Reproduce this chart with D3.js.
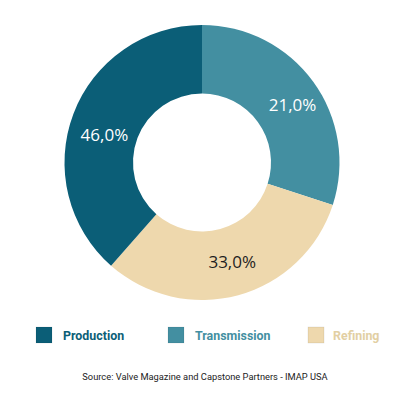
<!DOCTYPE html>
<meta charset="utf-8">
<style>
  body { margin: 0; background: #fff; }
  svg { display: block; }
</style>
<div id="chart"></div>
<script src="https://cdn.jsdelivr.net/npm/d3@7/dist/d3.min.js"></script>
<script>
  // slice names, printed labels and the arc shares as drawn in the picture
  var segments = ["Transmission", "Refining", "Production"];
  var arcShares = [30.0, 31.5, 38.5];
  var valueLabels = ["21,0%", "33,0%", "46,0%"];
  var labelColors = ["#ffffff", "#1e1e1e", "#ffffff"];
  var legendOrder = ["Production", "Transmission", "Refining"];
  var sourceText = "Source: Valve Magazine and Capstone Partners - IMAP USA";

  var W = 400, H = 400;
  var cx = 202, cy = 162.5, outerR = 137.5, innerR = 69;
  // small nudges of the value labels off the arc centroid
  var labelNudge = [[7, 3], [3, 0], [-1, 9]];
  var legendPos = d3.scaleOrdinal().domain(legendOrder).range([36, 168, 308]);

  var color = d3.scaleOrdinal()
    .domain(segments)
    .range(["#438fa1", "#eed8ad", "#0b5e77"]);

  var svg = d3.select("#chart").append("svg")
    .attr("width", W)
    .attr("height", H);

  // donut
  var pie = d3.pie().sort(null).value(function(d) { return d.v; });
  var arc = d3.arc().innerRadius(innerR).outerRadius(outerR);

  var data = segments.map(function(s, i) {
    return { name: s, v: arcShares[i], label: valueLabels[i], tc: labelColors[i], nudge: labelNudge[i] };
  });

  var g = svg.append("g").attr("transform", "translate(" + cx + "," + cy + ")");

  g.selectAll("path")
    .data(pie(data))
    .enter().append("path")
      .attr("d", arc)
      .attr("fill", function(d) { return color(d.data.name); });

  g.selectAll("text")
    .data(pie(data))
    .enter().append("text")
      .attr("transform", function(d) {
        var c = arc.centroid(d);
        return "translate(" + (c[0] + d.data.nudge[0]) + "," + (c[1] + d.data.nudge[1]) + ")";
      })
      .attr("text-anchor", "middle")
      .attr("dy", "0.36em")
      .attr("font-family", "'Open Sans', sans-serif")
      .attr("font-size", 17)
      .attr("fill", function(d) { return d.data.tc; })
      .text(function(d) { return d.data.label; });

  // legend
  var legend = svg.append("g").attr("class", "legend")
    .attr("transform", "translate(0,327)");

  var items = legend.selectAll("g")
    .data(legendOrder)
    .enter().append("g")
      .attr("transform", function(d) { return "translate(" + legendPos(d) + ",0)"; });

  items.append("rect")
    .attr("width", 16)
    .attr("height", 16)
    .attr("fill", function(d) { return color(d); })
    .attr("stroke", "rgba(0,0,0,0.12)")
    .attr("stroke-width", 0.6);

  items.append("text")
    .attr("x", function(d) { return d === "Refining" ? 25 : 27; })
    .attr("y", 13)
    .attr("font-family", "Roboto, sans-serif")
    .attr("font-weight", "bold")
    .attr("font-size", 12.4)
    .attr("fill", function(d) { return d === "Refining" ? "#e2cfa3" : color(d); })
    .text(function(d) { return d; });

  // source
  svg.append("text")
    .attr("x", 205)
    .attr("y", 380)
    .attr("text-anchor", "middle")
    .attr("font-family", "Roboto, sans-serif")
    .attr("font-size", 9.3)
    .attr("fill", "#222")
    .text(sourceText);
</script>
